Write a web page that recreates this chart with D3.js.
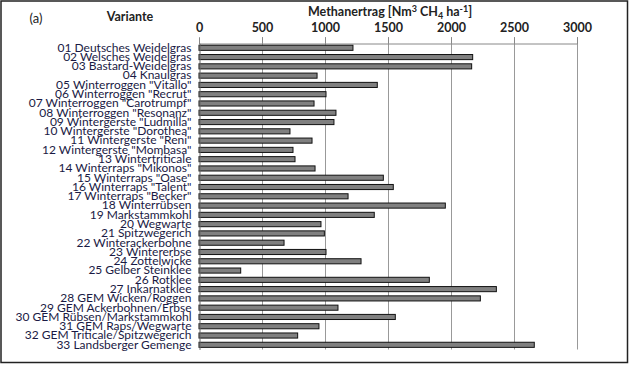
<!DOCTYPE html>
<html><head><meta charset="utf-8">
<script src="https://cdn.jsdelivr.net/npm/d3@7"></script>
<style>body{margin:0;background:#fff}svg{display:block}</style>
</head><body>
<script>
const categories = ["01 Deutsches Weidelgras","02 Welsches Weidelgras","03 Bastard-Weidelgras","04 Knaulgras",
"05 Winterroggen \"Vitallo\"","06 Winterroggen \"Recrut\"","07 Winterroggen \"Carotrumpf\"","08 Winterroggen \"Resonanz\"",
"09 Wintergerste \"Ludmilla\"","10 Wintergerste \"Dorothea\"","11 Wintergerste \"Reni\"","12 Wintergerste \"Mombasa\"",
"13 Wintertriticale","14 Winterraps \"Mikonos\"","15 Winterraps \"Oase\"","16 Winterraps \"Talent\"","17 Winterraps \"Becker\"",
"18 Winterrübsen","19 Markstammkohl","20 Wegwarte","21 Spitzwegerich","22 Winterackerbohne","23 Wintererbse",
"24 Zottelwicke","25 Gelber Steinklee","26 Rotklee","27 Inkarnatklee","28 GEM Wicken/Roggen","29 GEM Ackerbohnen/Erbse",
"30 GEM Rübsen/Markstammkohl","31 GEM Raps/Wegwarte","32 GEM Triticale/Spitzwegerich","33 Landsberger Gemenge"];
const values = [1222,2172,2164,937,1415,1008,913,1087,1071,722,897,746,762,921,1463,1542,1183,
1955,1391,968,995,675,1008,1286,331,1828,2360,2233,1103,1558,952,783,2661];
const xTicks = [0,500,1000,1500,2000,2500,3000];

const W=630,H=365;
const svg=d3.select("body").append("svg").attr("width",W).attr("height",H);
svg.append("rect").attr("x",1).attr("y",1).attr("width",626.5).attr("height",361.5)
  .attr("fill","#fff").attr("stroke","#222").attr("stroke-width",1.5);

const x=d3.scaleLinear().domain([0,3000]).range([199,577]);
const y=d3.scaleBand().domain(categories).range([43.2,349.4]).paddingInner(0.45).paddingOuter(0.22);

// gridlines
svg.append("g").selectAll("line").data(xTicks.slice(1)).join("line")
  .attr("x1",d=>x(d)+0.5).attr("x2",d=>x(d)+0.5).attr("y1",37).attr("y2",349.5)
  .attr("stroke","#999").attr("stroke-width",1);

// top axis
const xa=svg.append("g").attr("transform","translate(0,43.5)")
  .call(d3.axisTop(x).tickValues(xTicks).tickSize(6).tickPadding(6).tickFormat(d3.format("d")));
xa.select(".domain").attr("stroke","#888");
xa.selectAll(".tick line").attr("stroke","#888");
xa.selectAll("text").attr("font-family","Lato, 'Open Sans', sans-serif").attr("font-size",12.5)
  .attr("font-weight","bold").attr("fill","#222");

// bars
svg.append("g").selectAll("rect").data(values).join("rect")
  .attr("x",x(0)).attr("y",(d,i)=>y(categories[i]))
  .attr("width",d=>x(d)-x(0)).attr("height",y.bandwidth())
  .attr("fill","#808080").attr("stroke","#111").attr("stroke-width",1);

// left axis
const ya=svg.append("g").attr("transform","translate(199.5,0)")
  .call(d3.axisLeft(y).tickSize(0).tickPadding(8));
ya.select(".domain").attr("stroke","#666");
ya.selectAll("text").attr("font-family","Lato, 'Open Sans', sans-serif").attr("font-size",12)
  .attr("fill","#1a1a44");

svg.append("text").attr("x",390).attr("y",16).attr("text-anchor","middle")
  .attr("font-family","Lato, sans-serif").attr("font-size",12.5).attr("font-weight","bold").attr("fill","#222")
  .html('Methanertrag [Nm<tspan dy="-4" font-size="9">3</tspan><tspan dy="4"> CH</tspan><tspan dy="3" font-size="9">4</tspan><tspan dy="-3"> ha</tspan><tspan dy="-4" font-size="9">-1</tspan><tspan dy="4">]</tspan>');
svg.append("text").attr("x",130).attr("y",21).attr("text-anchor","middle")
  .attr("font-family","Lato, sans-serif").attr("font-size",12.5).attr("font-weight","bold").attr("fill","#222").text("Variante");
svg.append("text").attr("x",36).attr("y",23).attr("text-anchor","middle")
  .attr("font-family","Lato, sans-serif").attr("font-size",13).attr("fill","#222").text("(a)");
</script>
</body></html>
